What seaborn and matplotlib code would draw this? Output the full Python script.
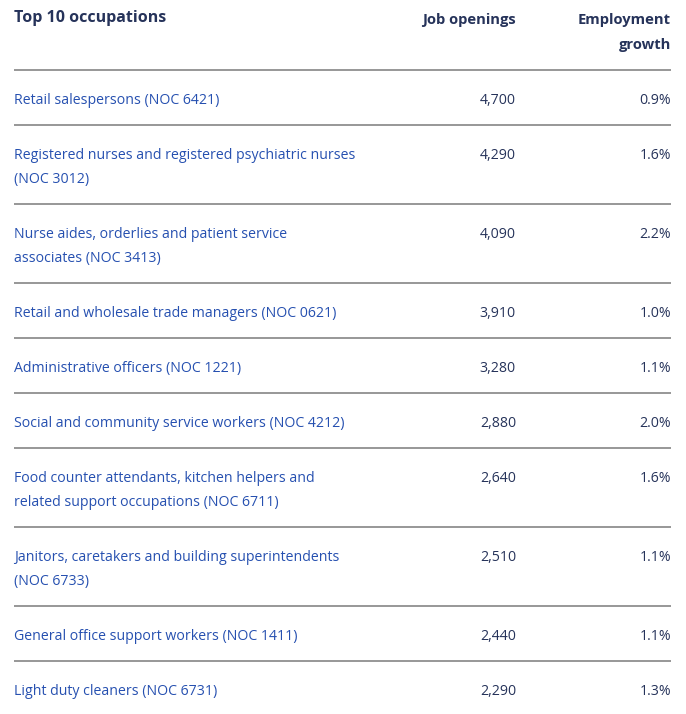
import matplotlib
matplotlib.use("Agg")
import matplotlib.pyplot as plt
import seaborn as sns

# table content
occupations = [
    "Retail salespersons (NOC 6421)",
    "Registered nurses and registered psychiatric nurses\n(NOC 3012)",
    "Nurse aides, orderlies and patient service\nassociates (NOC 3413)",
    "Retail and wholesale trade managers (NOC 0621)",
    "Administrative officers (NOC 1221)",
    "Social and community service workers (NOC 4212)",
    "Food counter attendants, kitchen helpers and\nrelated support occupations (NOC 6711)",
    "Janitors, caretakers and building superintendents\n(NOC 6733)",
    "General office support workers (NOC 1411)",
    "Light duty cleaners (NOC 6731)",
]
job_openings = [4700, 4290, 4090, 3910, 3280, 2880, 2640, 2510, 2440, 2290]
growth = [0.9, 1.6, 2.2, 1.0, 1.1, 2.0, 1.6, 1.1, 1.1, 1.3]
headers = ["Top 10 occupations", "Job openings", "Employment\ngrowth"]

navy = "#26335a"
link = "#2650b0"
rule = "#7a7a7a"

sns.set_theme(style="white")
plt.rcParams["font.family"] = ["Open Sans", "DejaVu Sans"]

fig = plt.figure(figsize=(6.86, 7.14), dpi=100)
ax = fig.add_axes([0, 0, 1, 1])
ax.set_xlim(0, 686)
ax.set_ylim(714, 0)
ax.axis("off")

x_left, x_jobs, x_growth = 14, 516, 671
line_h = 24

# header
ax.text(x_left, 18.5, headers[0], color=navy, fontsize=11.5, fontweight="bold",
        ha="left", va="center")
ax.text(x_jobs, 20, headers[1], color=navy, fontsize=10.6, fontweight="bold",
        ha="right", va="center")
for i, part in enumerate(headers[2].split("\n")):
    ax.text(x_growth, 20 + i * 25, part, color=navy, fontsize=10.6,
            fontweight="bold", ha="right", va="center")
ax.hlines(70, x_left, x_growth, color=rule, lw=1.1)

top = 70
for name, jobs, g in zip(occupations, job_openings, growth):
    n_lines = name.count("\n") + 1
    y0 = top + 30.5
    for i, part in enumerate(name.split("\n")):
        ax.text(x_left, y0 + i * line_h, part, color=link, fontsize=10.15,
                ha="left", va="center")
    ax.text(x_jobs, y0, f"{jobs:,}", color=navy, fontsize=10.15, ha="right", va="center")
    ax.text(x_growth, y0, f"{g:.1f}%", color=navy, fontsize=10.15, ha="right", va="center")
    top = top + 55 + (n_lines - 1) * line_h
    if top < 700:
        ax.hlines(top, x_left, x_growth, color=rule, lw=1.1)

fig.savefig("out.png", dpi=100)
